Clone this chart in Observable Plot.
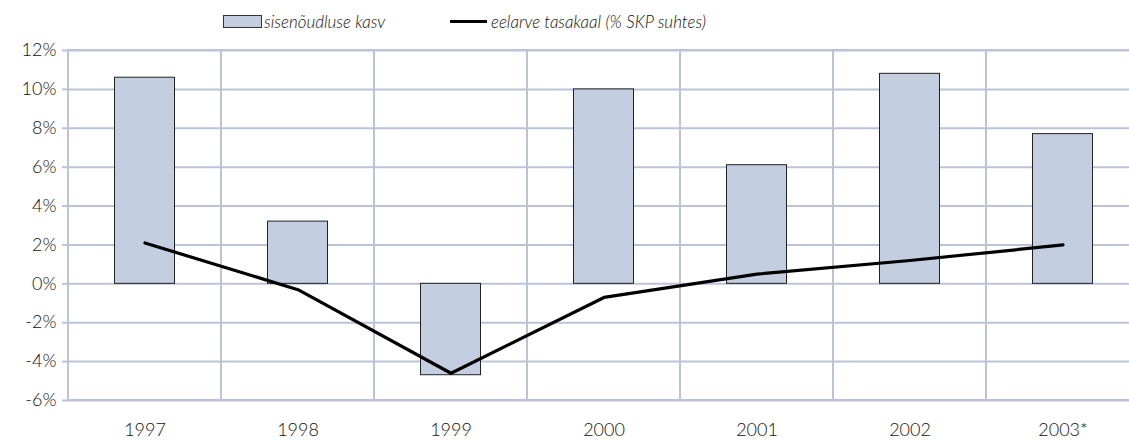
<!DOCTYPE html>
<html>
<head>
<meta charset="utf-8">
<script src="https://cdn.jsdelivr.net/npm/d3@7"></script>
<script src="https://cdn.jsdelivr.net/npm/@observablehq/plot@0.6"></script>
<style>
  html, body { margin: 0; padding: 0; background: #fff; overflow: hidden; }
  body { width: 1129px; height: 441px; font-family: Lato, "Open Sans", sans-serif; }
  #legend { height: 40px; position: relative; font-style: italic; font-size: 17px; color: #111; font-weight: 300; }
  .item { position: absolute; top: 11px; display: flex; align-items: center; }
  .sw-bar { width: 37px; height: 11px; background: #c3cfe0; border: 1px solid #333; margin-right: 2px; }
  .sw-line { width: 37px; height: 3px; background: #000; margin-right: 4px; }
  #chart svg { display: block; overflow: visible; }
</style>
</head>
<body>
<div id="legend"></div>
<div id="chart"></div>
<script>
const years = ["1997", "1998", "1999", "2000", "2001", "2002", "2003*"];
const demandGrowth = [10.6, 3.2, -4.7, 10.0, 6.1, 10.8, 7.7];
const budgetBalance = [2.1, -0.3, -4.6, -0.7, 0.5, 1.2, 2.0];
const yTicks = [-6, -4, -2, 0, 2, 4, 6, 8, 10, 12];
const seriesNames = ["sisenõudluse kasv", "eelarve tasakaal (% SKP suhtes)"];

const gridColor = "#bcc3d8";
const barFill = "#c3cfe0";
const font = "Lato, 'Open Sans', sans-serif";

const legend = document.getElementById("legend");
legend.innerHTML =
  `<div class="item" style="left:223px"><span class="sw-bar"></span><span>${seriesNames[0]}</span></div>` +
  `<div class="item" style="left:450px"><span class="sw-line"></span><span>${seriesNames[1]}</span></div>`;

const rows = years.map((year, i) => ({year, demand: demandGrowth[i], balance: budgetBalance[i]}));
const yMin = yTicks[0], yMax = yTicks[yTicks.length - 1];

const chart = Plot.plot({
  width: 1129,
  height: 401,
  marginTop: 10,
  marginBottom: 41,
  marginLeft: 67,
  marginRight: -11,
  style: {fontFamily: font, fontSize: "18px", fontWeight: 300, color: "#111", background: "transparent"},
  x: {domain: years, padding: 0, axis: null, label: null},
  y: {domain: [yMin, yMax], axis: null, label: null},
  marks: [
    Plot.barY(rows, {x: "year", y1: () => yMin, y2: () => yMax, fill: "none", stroke: gridColor, strokeWidth: 2}),
    Plot.ruleY(yTicks, {stroke: gridColor, strokeWidth: 2}),
    Plot.axisY({ticks: yTicks, tickFormat: d => d + "%", tickSize: 5, tickPadding: 6, stroke: gridColor, strokeWidth: 2, fill: "#111", fontSize: 18, fontFamily: font, fontWeight: 300, label: null}),
    Plot.axisX({tickSize: 0, tickPadding: 23, fontSize: 18, fontFamily: font, fontWeight: 300, fill: "#111", label: null}),
    Plot.barY(rows, {x: "year", y: "demand", fill: barFill, stroke: "#222", strokeWidth: 1, insetLeft: 46.5, insetRight: 46.5}),
    Plot.line(rows, {x: "year", y: "balance", stroke: "#000", strokeWidth: 3.2})
  ]
});
document.getElementById("chart").appendChild(chart);
</script>
</body>
</html>
